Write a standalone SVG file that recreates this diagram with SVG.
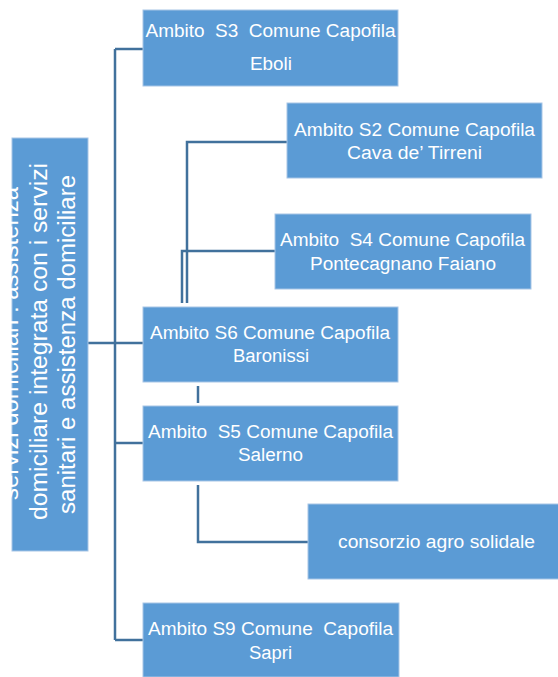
<svg xmlns="http://www.w3.org/2000/svg" width="558" height="677" viewBox="0 0 558 677">
<style>
.box{fill:#5B9BD5;stroke:#A7C5E6;stroke-width:1}
.t{font-family:"Liberation Sans",Arial,sans-serif;font-size:18px;fill:#FFFFFF;text-anchor:middle}
.v{font-family:"Liberation Sans",Arial,sans-serif;font-size:23px;fill:#FFFFFF;text-anchor:middle}
.c{fill:none;stroke:#41719C;stroke-width:2.5}
</style>
<rect width="558" height="677" fill="#FFFFFF"/>
<g id="connectors">
<path class="c" d="M115,49 V640"/>
<path class="c" d="M115,49 H143"/>
<path class="c" d="M88,343 H143"/>
<path class="c" d="M115,443 H143"/>
<path class="c" d="M115,640 H143"/>
<path class="c" d="M187,303 V142 H287"/>
<path class="c" d="M182,303 V251 H275"/>
<path class="c" d="M198,386 V403"/>
<path class="c" d="M198,485 V542 H308"/>
</g>
<g id="root">
<rect class="box" x="12" y="138" width="76" height="413"/>
<text class="v" transform="translate(18,343.5) rotate(-90)" textLength="313" lengthAdjust="spacingAndGlyphs">servizi domiciliari : assistenza</text>
<text class="v" transform="translate(47,341.5) rotate(-90)" textLength="357" lengthAdjust="spacingAndGlyphs">domiciliare integrata con i servizi</text>
<text class="v" transform="translate(75,344.5) rotate(-90)" textLength="339" lengthAdjust="spacingAndGlyphs">sanitari e assistenza domiciliare</text>
</g>
<g id="s3">
<rect class="box" x="143" y="10" width="255" height="76"/>
<text class="t" x="270.5" y="37" textLength="250" lengthAdjust="spacingAndGlyphs" xml:space="preserve">Ambito  S3  Comune Capofila</text>
<text class="t" x="271" y="70" textLength="42" lengthAdjust="spacingAndGlyphs">Eboli</text>
</g>
<g id="s2">
<rect class="box" x="287" y="103" width="255" height="75"/>
<text class="t" x="414.5" y="136" textLength="241" lengthAdjust="spacingAndGlyphs">Ambito S2 Comune Capofila</text>
<text class="t" x="414.5" y="159" textLength="135" lengthAdjust="spacingAndGlyphs">Cava de’ Tirreni</text>
</g>
<g id="s4">
<rect class="box" x="275" y="214" width="256" height="75"/>
<text class="t" x="402.5" y="246" textLength="245" lengthAdjust="spacingAndGlyphs" xml:space="preserve">Ambito  S4 Comune Capofila</text>
<text class="t" x="403" y="270" textLength="186" lengthAdjust="spacingAndGlyphs">Pontecagnano Faiano</text>
</g>
<g id="s6">
<rect class="box" x="143" y="307" width="255" height="75"/>
<text class="t" x="270" y="339" textLength="240" lengthAdjust="spacingAndGlyphs">Ambito S6 Comune Capofila</text>
<text class="t" x="271" y="362" textLength="76" lengthAdjust="spacingAndGlyphs">Baronissi</text>
</g>
<g id="s5">
<rect class="box" x="143" y="406" width="255" height="75"/>
<text class="t" x="270.5" y="438" textLength="245" lengthAdjust="spacingAndGlyphs" xml:space="preserve">Ambito  S5 Comune Capofila</text>
<text class="t" x="270.5" y="461" textLength="65" lengthAdjust="spacingAndGlyphs">Salerno</text>
</g>
<g id="consorzio">
<rect class="box" x="308" y="504" width="252" height="75"/>
<text class="t" x="436.5" y="548" textLength="197" lengthAdjust="spacingAndGlyphs">consorzio agro solidale</text>
</g>
<g id="s9">
<rect class="box" x="143" y="603" width="256" height="74"/>
<text class="t" x="270.5" y="635" textLength="245" lengthAdjust="spacingAndGlyphs" xml:space="preserve">Ambito S9 Comune  Capofila</text>
<text class="t" x="270.5" y="659" textLength="43" lengthAdjust="spacingAndGlyphs">Sapri</text>
</g>
</svg>
